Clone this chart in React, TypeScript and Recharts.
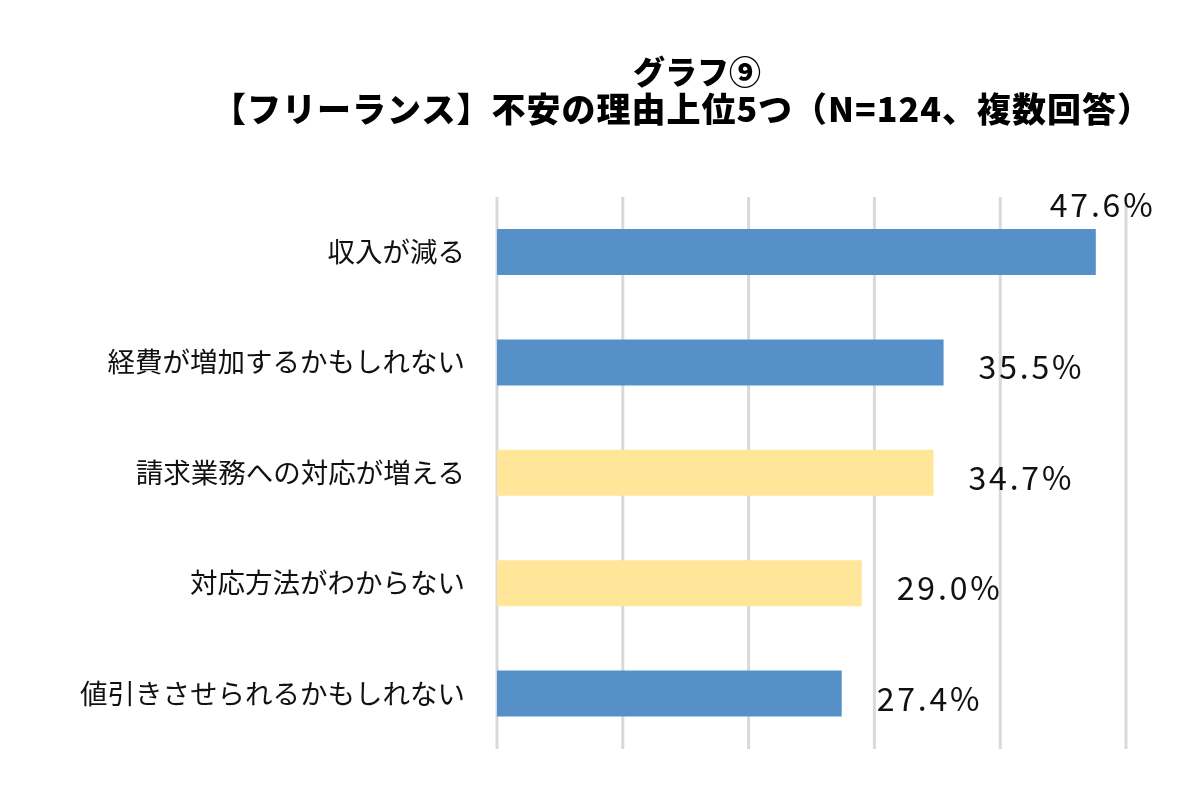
import { BarChart, Bar, XAxis, YAxis, CartesianGrid, Cell, LabelList } from "recharts";

const categories = [
  "収入が減る",
  "経費が増加するかもしれない",
  "請求業務への対応が増える",
  "対応方法がわからない",
  "値引きさせられるかもしれない",
];
const shares = [47.6, 35.5, 34.7, 29.0, 27.4];
const barColors = ["#5591C8", "#5591C8", "#FFE699", "#FFE699", "#5591C8"];
const xTicks = [0, 10, 20, 30, 40, 50];

const titleLine1 = "グラフ⑨";
const titleLine2 = "【フリーランス】不安の理由上位5つ（N=124、複数回答）";

const data = categories.map((name, i) => ({ name, value: shares[i] }));

const FONT = '"Noto Sans CJK JP", "Noto Sans", sans-serif';

function ValueLabel(props: any) {
  const { x, y, width, height, value, index } = props;
  const text = `${Number(value).toFixed(1)}%`;
  // the top bar's label sits above the bar's end, others sit to the right
  const lx = index === 0 ? x + width - 46 : x + width + 35;
  const ly = index === 0 ? y - 26 : y + height / 2 + 3;
  return (
    <text
      x={lx}
      y={ly}
      dominantBaseline="central"
      fontFamily={FONT}
      fontSize={32}
      letterSpacing={2.8}
      fill="#111"
    >
      {text}
    </text>
  );
}

export default function App() {
  return (
    <div style={{ position: "fixed", left: 0, top: 0, width: 1200, height: 800, background: "#fff" }}>
      <div
        style={{
          position: "absolute",
          left: 0,
          top: 51,
          width: 1364,
          textAlign: "center",
          fontFamily: FONT,
          fontWeight: 900,
          color: "#000",
          whiteSpace: "nowrap",
          fontSize: 34,
          lineHeight: "38px",
          letterSpacing: 1,
        }}
      >
        <span style={{ fontSize: 32, paddingLeft: 30, letterSpacing: 0 }}>{titleLine1}</span>
        <br />
        {titleLine2}
      </div>
      <BarChart
        width={1200}
        height={800}
        data={data}
        layout="vertical"
        margin={{ top: 197, right: 74, bottom: 51, left: 0 }}
        barCategoryGap={0}
      >
        <CartesianGrid horizontal={false} stroke="#D9D9D9" strokeWidth={3} />
        <XAxis type="number" domain={[0, 50]} ticks={xTicks} hide />
        <YAxis
          type="category"
          dataKey="name"
          width={497}
          axisLine={false}
          tickLine={false}
          tickSize={0}
          tickMargin={32}
          tick={{ fontFamily: FONT, fontSize: 27.5, fill: "#111" }}
          interval={0}
        />
        <Bar dataKey="value" barSize={46} isAnimationActive={false}>
          {data.map((d, i) => (
            <Cell key={d.name} fill={barColors[i]} />
          ))}
          <LabelList dataKey="value" content={ValueLabel} />
        </Bar>
      </BarChart>
    </div>
  );
}
